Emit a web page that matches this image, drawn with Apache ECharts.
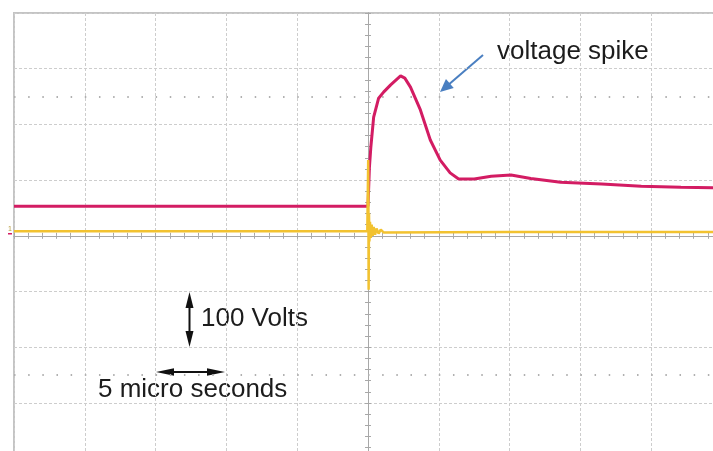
<!DOCTYPE html>
<html>
<head>
<meta charset="utf-8">
<script src="https://cdn.jsdelivr.net/npm/echarts@6/dist/echarts.min.js"></script>
<style>
html,body{margin:0;padding:0;background:#fff;}
#chart{width:713px;height:451px;}
</style>
</head>
<body>
<div id="chart"></div>
<script>
// Time axis in microseconds (5 us / division), voltage axis in volts (100 V / division)
const xTicks = { min: -25, max: 25, step: 5 };
const yTicks = { min: -400, max: 400, step: 100 };

// Channel 1 (red): voltage trace
const redTime  = [-25, -15, -5, 0, 0.1, 0.2, 0.4, 0.75, 1.1, 1.6, 2.3, 2.6, 3.0, 3.7, 4.4, 5.1, 5.8, 6.4, 7.5, 8.7, 10.1, 11.5, 13.6, 16.5, 19.3, 22.1, 25];
const redVolts = [53, 53, 53, 53, 123, 159, 213, 247, 258, 271, 287, 283, 267, 226, 172, 136, 113, 102, 102, 107, 109, 103, 96, 93, 89, 87, 86];

// Channel 2 (yellow): switching transient
const yellowTime  = [-25, -10, -0.05, 0, 0.015, 0.03, 0.045, 0.07, 0.1, 0.14, 0.2, 0.26, 0.33, 0.4, 0.5, 0.6, 0.75, 0.9, 1.1, 10, 25];
const yellowVolts = [8, 8, 8, 8, 136, 60, -97, 40, -10, 25, -4, 20, 0, 16, 2, 13, 4, 11, 6, 7, 7];

// Dotted reference lines at +/- 2.5 divisions
const refLines = [250, -250];

const chart = echarts.init(document.getElementById('chart'), null, { renderer: 'canvas' });

const gridColor = '#cdcdcd';
const centerColor = '#a8a8a8';

function xAxisCfg(inside, splits) {
  return {
    type: 'value', min: xTicks.min, max: xTicks.max, interval: xTicks.step,
    position: 'bottom',
    axisLine: { show: true, onZero: true, lineStyle: { color: centerColor, width: 1 } },
    axisTick: { show: true, inside: inside, length: 3, lineStyle: { color: centerColor } },
    minorTick: { show: true, splitNumber: 5, length: 3, lineStyle: { color: centerColor } },
    axisLabel: { show: false },
    splitLine: { show: splits, lineStyle: { color: gridColor, type: [3, 2], width: 1 } }
  };
}
function yAxisCfg(inside, splits) {
  return {
    type: 'value', min: yTicks.min, max: yTicks.max, interval: yTicks.step,
    position: 'left',
    axisLine: { show: true, onZero: true, lineStyle: { color: centerColor, width: 1 } },
    axisTick: { show: true, inside: inside, length: 3, lineStyle: { color: centerColor } },
    minorTick: { show: true, splitNumber: 5, length: 3, lineStyle: { color: centerColor } },
    axisLabel: { show: false },
    splitLine: { show: splits, lineStyle: { color: gridColor, type: [3, 2], width: 1 } }
  };
}

function arrowHead(tip, dir, len, half) {
  const [ux, uy] = dir;
  const bx = tip[0] - ux * len, by = tip[1] - uy * len;
  return [[tip[0], tip[1]], [bx - uy * half, by + ux * half], [bx + uy * half, by - ux * half]];
}

const blueTail = [483, 55], blueTip = [440, 92];
const bd = (() => { const dx = blueTip[0] - blueTail[0], dy = blueTip[1] - blueTail[1]; const l = Math.hypot(dx, dy); return [dx / l, dy / l]; })();

const txtFont = (s) => s + 'px "Liberation Sans", Arial, sans-serif';

const option = {
  animation: false,
  backgroundColor: '#ffffff',
  grid: { left: 14, top: 13, width: 708, height: 445.6, outerBoundsMode: 'none', containLabel: false, show: true, borderColor: '#c4c4c4', borderWidth: 2, backgroundColor: 'transparent' },
  xAxis: [xAxisCfg(true, true), xAxisCfg(false, false)],
  yAxis: [yAxisCfg(true, true), yAxisCfg(false, false)],
  series: [
    {
      type: 'line', name: 'CH1', xAxisIndex: 0, yAxisIndex: 0,
      data: redTime.map((t, i) => [t, redVolts[i]]),
      showSymbol: false, lineStyle: { color: '#d31c63', width: 3 },
      z: 3
    },
    {
      type: 'line', name: 'CH2', xAxisIndex: 0, yAxisIndex: 0,
      data: yellowTime.map((t, i) => [t, yellowVolts[i]]),
      showSymbol: false, lineStyle: { color: '#f2c230', width: 2.5 },
      z: 4,
      markLine: {
        silent: true, symbol: 'none', label: { show: false }, z: 1,
        lineStyle: { color: '#b0b0b0', type: [1.5, 12.66], width: 2 },
        data: refLines.map(v => ({ yAxis: v }))
      }
    }
  ],
  graphic: [
    { type: 'text', x: 497, y: 51.5, style: { text: 'voltage spike', font: txtFont(26), fill: '#1c1c1c', verticalAlign: 'middle' } },
    { type: 'line', shape: { x1: blueTail[0], y1: blueTail[1], x2: blueTip[0] - bd[0] * 10, y2: blueTip[1] - bd[1] * 10 }, style: { stroke: '#4a7fc1', lineWidth: 2 } },
    { type: 'polygon', shape: { points: arrowHead(blueTip, bd, 13, 6) }, style: { fill: '#4a7fc1' } },
    // channel marker at left edge
    { type: 'text', x: 8, y: 229, style: { text: '1', font: '7px "Liberation Sans", Arial, sans-serif', fill: '#b59a3a', verticalAlign: 'middle' } },
    { type: 'rect', shape: { x: 8, y: 233, width: 4, height: 1.5 }, style: { fill: '#d31c63' } },
    // 100 Volts scale arrow
    { type: 'line', shape: { x1: 189.5, y1: 300, x2: 189.5, y2: 339 }, style: { stroke: '#111', lineWidth: 2 } },
    { type: 'polygon', shape: { points: arrowHead([189.5, 292], [0, -1], 16, 4) }, style: { fill: '#111' } },
    { type: 'polygon', shape: { points: arrowHead([189.5, 347], [0, 1], 16, 4) }, style: { fill: '#111' } },
    { type: 'text', x: 201, y: 318.5, style: { text: '100 Volts', font: txtFont(26), fill: '#1c1c1c', verticalAlign: 'middle' } },
    // 5 micro seconds scale arrow
    { type: 'line', shape: { x1: 165, y1: 372, x2: 216, y2: 372 }, style: { stroke: '#111', lineWidth: 2 } },
    { type: 'polygon', shape: { points: arrowHead([156, 372], [-1, 0], 18, 3.8) }, style: { fill: '#111' } },
    { type: 'polygon', shape: { points: arrowHead([225, 372], [1, 0], 18, 3.8) }, style: { fill: '#111' } },
    { type: 'text', x: 98, y: 389.5, style: { text: '5 micro seconds', font: txtFont(26), fill: '#1c1c1c', verticalAlign: 'middle' } }
  ]
};
chart.setOption(option);
</script>
</body>
</html>
